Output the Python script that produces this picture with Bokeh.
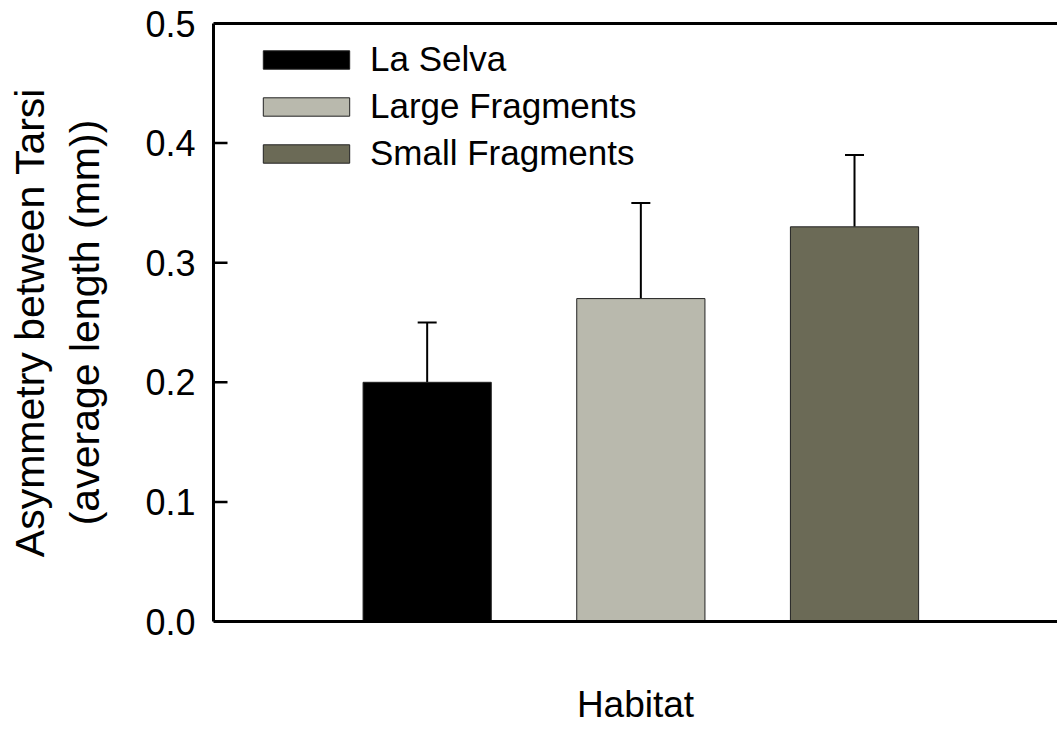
from bokeh.plotting import figure
from bokeh.models import (ColumnDataSource, Range1d, FixedTicker, LinearAxis,
                          Whisker, TeeHead, Legend, LegendItem, CustomJSTickFormatter)
from bokeh.embed import file_html
from bokeh.resources import INLINE

# ---- data ----
habitats = ["La Selva", "Large Fragments", "Small Fragments"]
asymmetry = [0.20, 0.27, 0.33]
error_up = [0.05, 0.08, 0.06]
bar_colors = ["#000000", "#b9b9ad", "#6b6a56"]
y_ticks = [0.0, 0.1, 0.2, 0.3, 0.4, 0.5]

positions = [i + 1 for i in range(len(habitats))]
upper = [v + e for v, e in zip(asymmetry, error_up)]

src = ColumnDataSource(dict(x=positions, top=asymmetry, upper=upper,
                            color=bar_colors, label=habitats))

FONT = "Liberation Sans"
X_START, X_END = 0, 3.95

p = figure(width=1057, height=733, output_backend="svg", toolbar_location=None,
           x_range=Range1d(X_START, X_END), y_range=Range1d(0, 0.5),
           min_border_left=213, min_border_right=0, min_border_top=23,
           min_border_bottom=112)
p.outline_line_color = None
p.grid.visible = False
p.background_fill_color = "white"
p.border_fill_color = "white"

bars = p.vbar(x="x", top="top", bottom=0, width=0.6, source=src,
              fill_color="color", line_color="#222222", line_width=1)

wh = Whisker(base="x", lower="top", upper="upper", source=src,
             line_color="black", line_width=2,
             upper_head=TeeHead(size=19, line_color="black", line_width=2),
             lower_head=None)
p.add_layout(wh)

# inward tick marks on the y axis (about 14 px long)
tick_len = (X_END - X_START) * 14 / 844
p.segment(x0=[X_START] * len(y_ticks), y0=y_ticks,
          x1=[X_START + tick_len] * len(y_ticks), y1=y_ticks,
          line_color="black", line_width=2.5)

# y axis
ya = p.yaxis[0]
ya.ticker = FixedTicker(ticks=y_ticks)
ya.formatter = CustomJSTickFormatter(code="return tick.toFixed(1);")
ya.axis_line_width = 3
ya.axis_line_color = "black"
ya.major_tick_in = 0
ya.major_tick_out = 0
ya.minor_tick_line_color = None
ya.major_label_text_font = FONT
ya.major_label_text_font_size = "36px"
ya.major_label_text_color = "black"
ya.major_label_standoff = 18
ya.axis_label = "Asymmetry between Tarsi\n(average length (mm))"
ya.axis_label_text_font = FONT
ya.axis_label_text_font_size = "41px"
ya.axis_label_text_font_style = "normal"
ya.axis_label_text_color = "black"
ya.axis_label_standoff = 34

# x axis
xa = p.xaxis[0]
xa.ticker = FixedTicker(ticks=[])
xa.axis_line_width = 3
xa.axis_line_color = "black"
xa.major_tick_line_color = None
xa.minor_tick_line_color = None
xa.major_label_text_font_size = "0px"
xa.axis_label = "Habitat"
xa.axis_label_text_font = FONT
xa.axis_label_text_font_size = "37px"
xa.axis_label_text_font_style = "normal"
xa.axis_label_text_color = "black"
xa.axis_label_standoff = 62

# top border
top_axis = LinearAxis(ticker=FixedTicker(ticks=[]), axis_line_width=3,
                      axis_line_color="black", major_tick_line_color=None,
                      minor_tick_line_color=None, major_label_text_font_size="0px")
p.add_layout(top_axis, "above")

items = [LegendItem(label=h, renderers=[bars], index=i) for i, h in enumerate(habitats)]
legend = Legend(items=items, location=(39, 448), padding=0, margin=0,
                border_line_color=None, background_fill_alpha=0,
                glyph_width=108, glyph_height=23, label_standoff=10,
                label_text_font=FONT, label_text_font_size="35px",
                label_text_color="black", spacing=7, label_height=30)
p.add_layout(legend)

open("out.html", "w").write(file_html(p, INLINE))
